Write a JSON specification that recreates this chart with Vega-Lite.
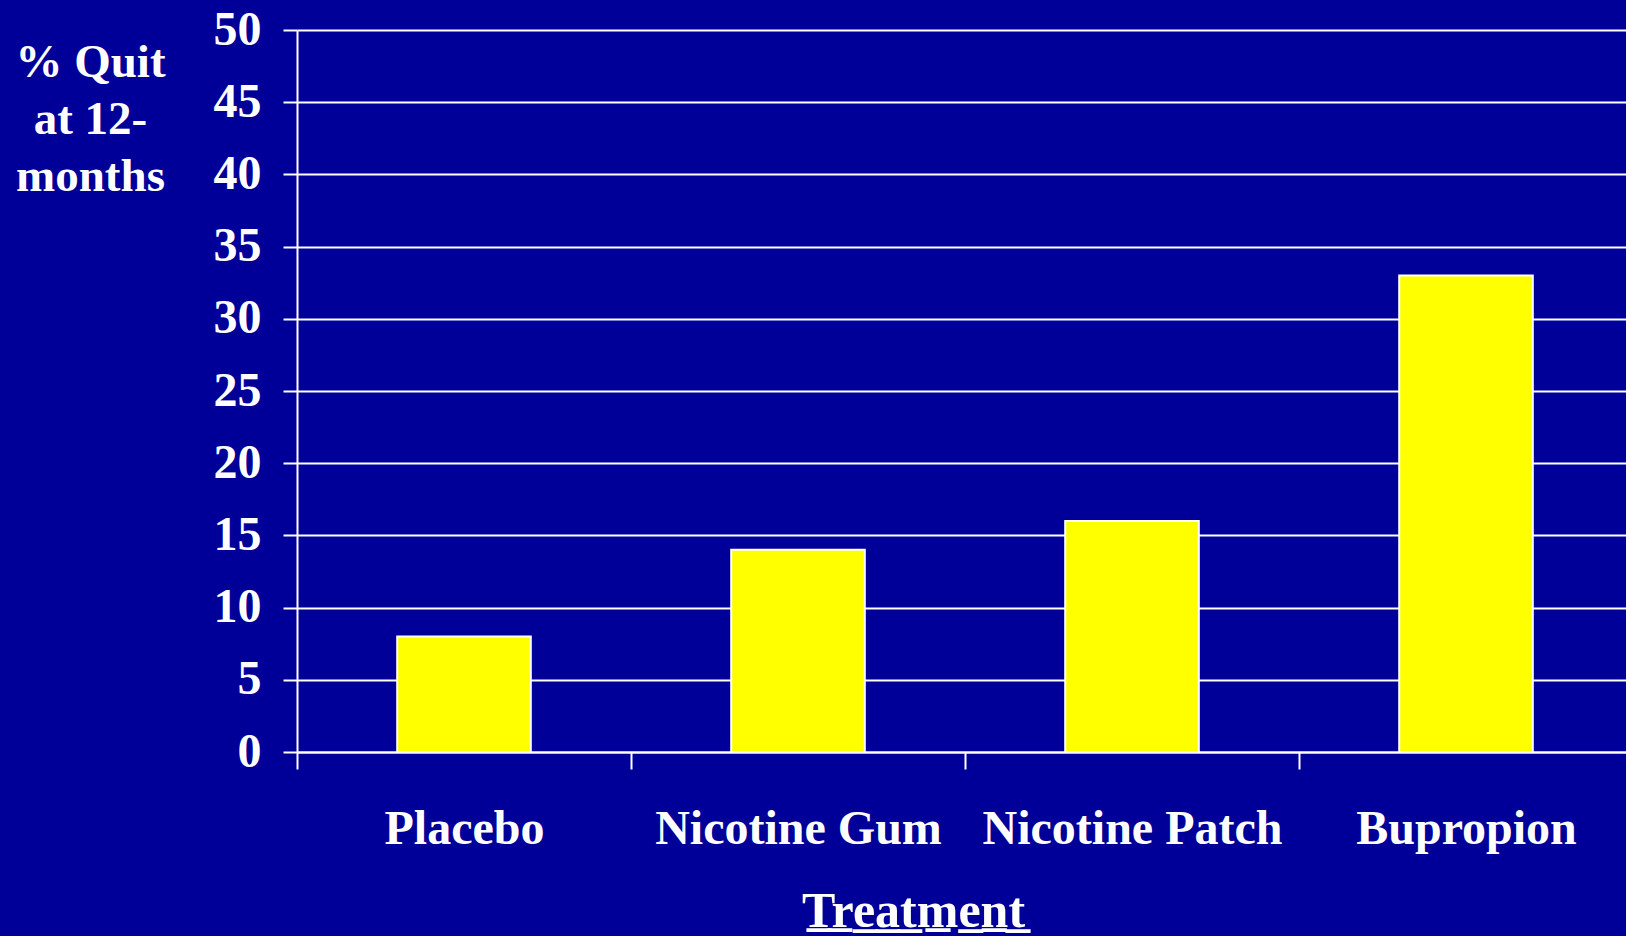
{
  "$schema": "https://vega.github.io/schema/vega-lite/v6.json",
  "width": 1329,
  "height": 722,
  "autosize": {"type": "none"},
  "padding": {"left": 297, "top": 30, "right": 0, "bottom": 184},
  "background": "#000099",
  "config": {
    "view": {"stroke": null},
    "font": "Liberation Serif"
  },
  "data": {
    "values": [
      {"treatment": "Placebo", "pct": 8},
      {"treatment": "Nicotine Gum", "pct": 14},
      {"treatment": "Nicotine Patch", "pct": 16},
      {"treatment": "Bupropion", "pct": 33}
    ]
  },
  "mark": {"type": "bar", "color": "#FFFF00", "stroke": "#FFFFFF", "strokeWidth": 2, "width": {"band": 0.4}},
  "encoding": {
    "x": {
      "field": "treatment",
      "type": "nominal",
      "sort": null,
      "scale": {"range": [0, 1336], "paddingInner": 0, "paddingOuter": 0},
      "axis": {
        "title": "T̲r̲e̲a̲t̲m̲e̲n̲t̲",
        "titleFont": "Liberation Serif",
        "titleFontSize": 50,
        "titleFontWeight": "bold",
        "titleColor": "#FFFFFF",
        "titleX": 616,
        "titleY": 174,
        "titleAlign": "center",
        "titleBaseline": "alphabetic",
        "labelAngle": 0,
        "labelFont": "Liberation Serif",
        "labelFontSize": 48,
        "labelFontWeight": "bold",
        "labelColor": "#FFFFFF",
        "labelBaseline": "alphabetic",
        "labelPadding": 74,
        "labelLimit": 0,
        "labelOverlap": false,
        "tickBand": "extent",
        "tickSize": 17,
        "tickColor": "#FFFFFF",
        "tickWidth": 2,
        "domainColor": "#FFFFFF",
        "domainWidth": 2,
        "grid": false
      }
    },
    "y": {
      "field": "pct",
      "type": "quantitative",
      "scale": {"domain": [0, 50], "nice": false},
      "axis": {
        "values": [0, 5, 10, 15, 20, 25, 30, 35, 40, 45, 50],
        "title": ["% Quit", "at 12-", "months"],
        "titleAngle": 0,
        "titleFont": "Liberation Serif",
        "titleFontSize": 47,
        "titleFontWeight": "bold",
        "titleColor": "#FFFFFF",
        "titleX": -207,
        "titleY": 46,
        "titleAlign": "center",
        "titleBaseline": "alphabetic",
        "titleLineHeight": 57,
        "labelFont": "Liberation Serif",
        "labelFontSize": 48,
        "labelFontWeight": "bold",
        "labelColor": "#FFFFFF",
        "labelPadding": 22,
        "labelBaseline": "middle",
        "tickSize": 14,
        "tickColor": "#FFFFFF",
        "tickWidth": 2,
        "domainColor": "#FFFFFF",
        "domainWidth": 2,
        "grid": true,
        "gridColor": "#FFFFFF",
        "gridWidth": 2,
        "gridOpacity": 1
      }
    }
  }
}
